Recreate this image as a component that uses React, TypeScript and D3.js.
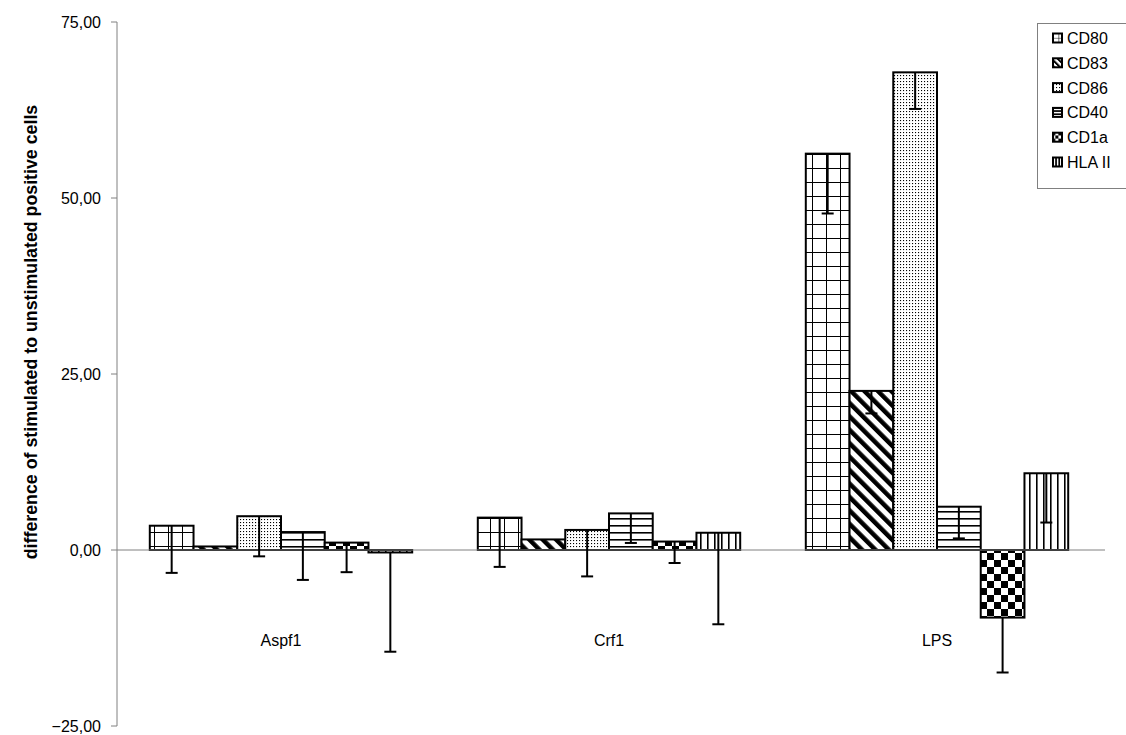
import React from "react";
import * as d3 from "d3";

const width = 1126;
const height = 735;

const categories = ["Aspf1", "Crf1", "LPS"];
const series = ["CD80", "CD83", "CD86", "CD40", "CD1a", "HLA II"];

// values per series, in category order (Aspf1, Crf1, LPS)
const cd80 = [3.45, 4.6, 56.3];
const cd83 = [0.5, 1.5, 22.6];
const cd86 = [4.8, 2.85, 67.85];
const cd40 = [2.55, 5.2, 6.15];
const cd1a = [1.05, 1.2, -9.6];
const hla2 = [-0.35, 2.45, 10.9];

// minus error bars
const cd80Err = [6.7, 7.0, 8.5];
const cd83Err = [0, 0, 3.2];
const cd86Err = [5.7, 6.6, 5.2];
const cd40Err = [6.8, 4.2, 4.5];
const cd1aErr = [4.2, 3.05, 7.8];
const hla2Err = [14.1, 13.0, 7.0];

const yTicks = [-25, 0, 25, 50, 75];

const values = [cd80, cd83, cd86, cd40, cd1a, hla2];
const errors = [cd80Err, cd83Err, cd86Err, cd40Err, cd1aErr, hla2Err];

const fmt = (v: number) => d3.format(".2f")(v).replace(".", ",");

const Patterns = ({ suffix, k }: { suffix: string; k: number }) => (
  <>
    <pattern id={"p0" + suffix} width={14 * k} height={14 * k} patternUnits="userSpaceOnUse">
      <rect width={14 * k} height={14 * k} fill="#fff" />
      <path d={`M0,0H${14 * k}M0,0V${14 * k}`} stroke="#000" strokeWidth={1.6 * k + 0.4} />
    </pattern>
    <pattern id={"p1" + suffix} width={9.5 * k} height={20 * k} patternUnits="userSpaceOnUse" patternTransform="rotate(-45)">
      <rect width={9.5 * k} height={20 * k} fill="#fff" />
      <rect width={4.5 * k} height={20 * k} fill="#000" />
    </pattern>
    <pattern id={"p2" + suffix} width={3} height={3} patternUnits="userSpaceOnUse">
      <rect width={3} height={3} fill="#fff" />
      <rect width={1.1} height={1.1} fill="#000" />
    </pattern>
    <pattern id={"p3" + suffix} width={10} height={7 * k} patternUnits="userSpaceOnUse">
      <rect width={10} height={7 * k} fill="#fff" />
      <path d={`M0,0.8H10`} stroke="#000" strokeWidth={1.6} />
    </pattern>
    <pattern id={"p4" + suffix} width={14 * k} height={14 * k} patternUnits="userSpaceOnUse">
      <rect width={14 * k} height={14 * k} fill="#fff" />
      <rect width={7 * k} height={7 * k} fill="#000" />
      <rect x={7 * k} y={7 * k} width={7 * k} height={7 * k} fill="#000" />
    </pattern>
    <pattern id={"p5" + suffix} width={7 * k} height={10} patternUnits="userSpaceOnUse">
      <rect width={7 * k} height={10} fill="#fff" />
      <path d={`M0.8,0V10`} stroke="#000" strokeWidth={1.6} />
    </pattern>
  </>
);

export default function App() {
  const left = 117;
  const right = 1101;
  const x0 = d3.scaleBand<string>().domain(categories).range([left, right]);
  const x1 = d3
    .scaleBand<string>()
    .domain(series)
    .range([0, x0.bandwidth()])
    .paddingInner(0)
    .paddingOuter(0.75);
  const y = d3.scaleLinear().domain([-25, 75]).range([726, 22]);
  const y0 = y(0);

  return (
    <svg
      width={width}
      height={height}
      style={{ position: "absolute", left: 0, top: 0, background: "#fff" }}
      fontFamily="'Liberation Sans', Arial, sans-serif"
    >
      <defs>
        <Patterns suffix="" k={1} />
        <Patterns suffix="L" k={0.45} />
      </defs>
      <rect width={width} height={height} fill="#fff" />

      {/* axes */}
      <line x1={left} x2={left} y1={y(75)} y2={y(-25)} stroke="#808080" strokeWidth={1} />
      {yTicks.map(t => (
        <g key={t}>
          <line x1={left - 6} x2={left} y1={y(t)} y2={y(t)} stroke="#808080" />
          <text x={101} y={y(t) + 6} textAnchor="end" fontSize={16}>
            {fmt(t)}
          </text>
        </g>
      ))}
      <text
        transform={`translate(37,332) rotate(-90)`}
        textAnchor="middle"
        fontSize={17.8}
        fontWeight="bold"
      >
        difference of stimulated to unstimulated positive cells
      </text>

      {/* bars */}
      {categories.map((c, ci) => (
        <g key={c}>
          {series.map((s, si) => {
            const v = values[si][ci];
            const bx = (x0(c) as number) + (x1(s) as number);
            const bw = x1.bandwidth();
            return (
              <rect
                key={s}
                x={bx}
                y={Math.min(y(v), y0)}
                width={bw}
                height={Math.abs(y(v) - y0)}
                fill={`url(#p${si})`}
                stroke="#000"
                strokeWidth={2}
              />
            );
          })}
        </g>
      ))}

      <line x1={left} x2={right + 4} y1={y0} y2={y0} stroke="#808080" strokeWidth={1} />

      {/* error bars (minus) */}
      {categories.map((c, ci) => (
        <g key={c + "err"}>
          {series.map((s, si) => {
            const v = values[si][ci];
            const e = errors[si][ci];
            if (!e) return null;
            const cx = (x0(c) as number) + (x1(s) as number) + x1.bandwidth() / 2;
            return (
              <g key={s} stroke="#000" strokeWidth={2}>
                <line x1={cx} x2={cx} y1={y(v)} y2={y(v - e)} />
                <line x1={cx - 6} x2={cx + 6} y1={y(v - e)} y2={y(v - e)} />
              </g>
            );
          })}
        </g>
      ))}

      {/* category labels */}
      {categories.map(c => (
        <text
          key={c + "lab"}
          x={(x0(c) as number) + x0.bandwidth() / 2}
          y={646}
          textAnchor="middle"
          fontSize={16}
        >
          {c}
        </text>
      ))}

      {/* legend */}
      <rect x={1037.5} y={23.5} width={100} height={165} fill="#fff" stroke="#808080" />
      {series.map((s, si) => {
        const ly = 38 + si * 24.8;
        return (
          <g key={s + "leg"}>
            <rect
              x={1053}
              y={ly - 4.5}
              width={9}
              height={9}
              fill={`url(#p${si}L)`}
              stroke="#000"
              strokeWidth={2}
            />
            <text x={1067} y={ly + 6} fontSize={16}>
              {s}
            </text>
          </g>
        );
      })}
    </svg>
  );
}
